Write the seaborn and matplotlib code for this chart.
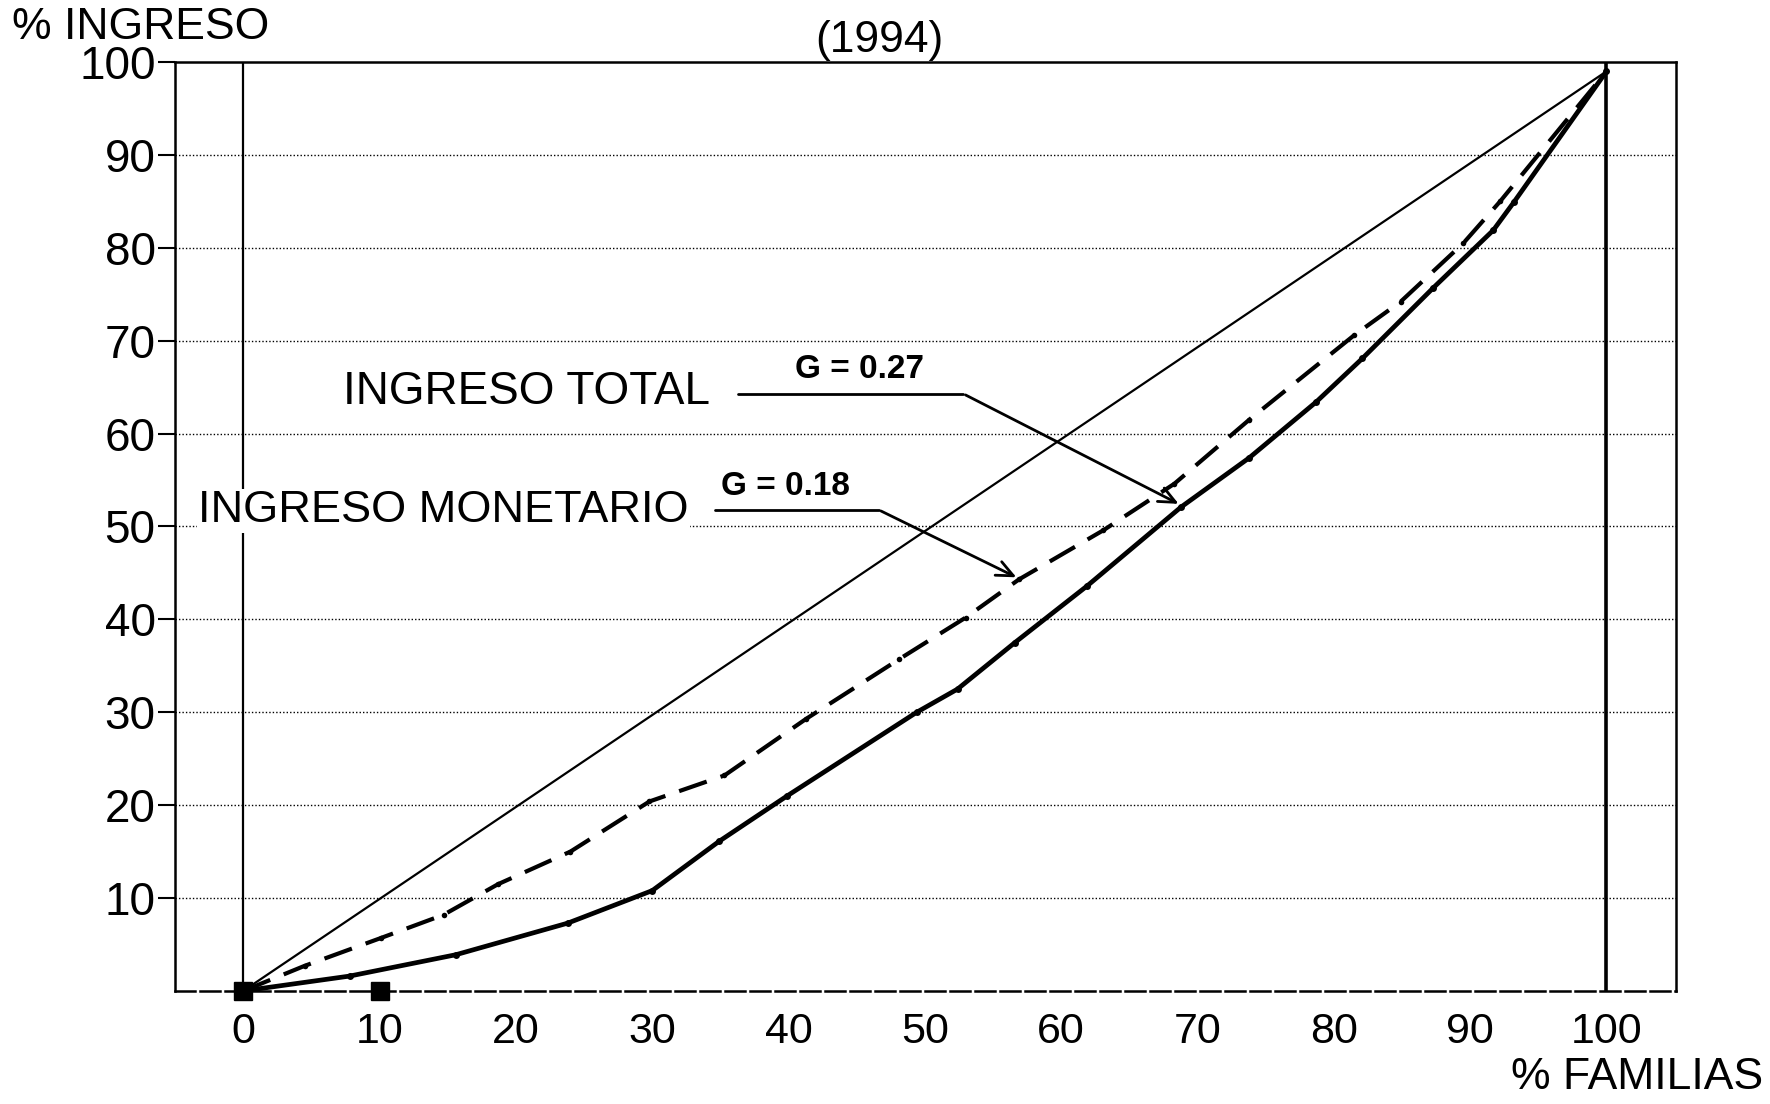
import matplotlib
matplotlib.use("Agg")
import matplotlib.pyplot as plt
import seaborn as sns
import pandas as pd

# ---- data ----
fam_monetario = [0, 4.5, 10.1, 14.7, 18.7, 24, 29.8, 35.3, 41.3, 48.1, 53.0, 56.9, 63.1, 68.3, 73.8, 81.5, 84.9, 89.5, 92.2, 100]
ing_monetario = [0, 2.7, 5.7, 8.2, 11.5, 15, 20.4, 23.2, 29.3, 35.7, 40.2, 44.3, 49.6, 54.6, 61.5, 70.6, 74.2, 80.5, 85.0, 99]

fam_total = [0, 7.8, 15.6, 23.8, 30, 34.9, 39.9, 49.4, 52.4, 56.6, 61.9, 68.8, 73.8, 78.7, 82.1, 87.3, 91.7, 93.2, 100]
ing_total = [0, 1.6, 3.9, 7.3, 10.8, 16.1, 21.0, 30, 32.5, 37.5, 43.6, 52.1, 57.4, 63.4, 68.1, 75.7, 81.9, 84.9, 99]

fam_equidad = [0, 100]
ing_equidad = [0, 99]

square_x = [0, 10]
square_y = [0, 0]

x_ticks = [0, 10, 20, 30, 40, 50, 60, 70, 80, 90, 100]
y_ticks = [10, 20, 30, 40, 50, 60, 70, 80, 90, 100]

title = "(1994)"
y_label = "% INGRESO"
x_label = "% FAMILIAS"
lab_total = "INGRESO TOTAL"
lab_mon = "INGRESO MONETARIO"
g_total = "G = 0.27"
g_mon = "G = 0.18"

sns.set_theme(style="white")
plt.rcParams['font.family'] = ['Liberation Sans', 'DejaVu Sans']
plt.rcParams['text.color'] = 'black'
plt.rcParams['xtick.color'] = 'black'
plt.rcParams['ytick.color'] = 'black'
plt.rcParams['xtick.labelcolor'] = 'black'
plt.rcParams['ytick.labelcolor'] = 'black'

fig = plt.figure(figsize=(17.7, 11.04), dpi=100)
ax = fig.add_axes([0.0989, 0.1024, 0.848, 0.8414])

df_mon = pd.DataFrame({"x": fam_monetario, "y": ing_monetario})
df_tot = pd.DataFrame({"x": fam_total, "y": ing_total})
df_eq = pd.DataFrame({"x": fam_equidad, "y": ing_equidad})

# grid
for yv in y_ticks[:-1]:
    ax.axhline(yv, color="black", lw=1.0, ls=(0, (1, 1.5)), zorder=1)

ax.axvline(0, color="black", lw=1.6, zorder=2)
ax.axvline(100, color="black", lw=2.6, zorder=2)

sns.lineplot(data=df_eq, x="x", y="y", ax=ax, color="black", lw=1.6, zorder=3)
sns.lineplot(data=df_mon, x="x", y="y", ax=ax, color="black", lw=3.0, zorder=4,
             marker="o", markersize=4, markeredgewidth=0, sort=False)
ax.lines[-1].set_dashes((7, 3.5))
sns.lineplot(data=df_tot, x="x", y="y", ax=ax, color="black", lw=3.4, zorder=4,
             marker="o", markersize=5, markeredgewidth=0, sort=False)
ax.plot(square_x, square_y, ls="none", marker="s", ms=13, color="black", zorder=6, clip_on=False)

ax.set_xlim(-5, 105.1)
ax.set_ylim(0, 100)
ax.set_xticks(x_ticks)
ax.set_yticks(y_ticks)
ax.tick_params(axis="x", length=0, pad=15, labelsize=31)
ax.tick_params(axis="y", length=12, width=1.5, direction="out", left=True, pad=2, labelsize=33)
ax.set_xlabel("")
ax.set_ylabel("")
for s in ["left", "right", "top", "bottom"]:
    ax.spines[s].set_color("black")
    ax.spines[s].set_linewidth(1.8)
ax.spines["bottom"].set_linestyle((0, (8, 2)))

# texts
fig.text(0.007, 0.975, y_label, fontsize=32, ha="left", va="center")
fig.text(0.497, 0.963, title, fontsize=32, ha="center", va="center")
fig.text(0.996, 0.014, x_label, fontsize=32, ha="right", va="baseline")

ax.text(7.3, 64.5, lab_total, fontsize=33, ha="left", va="center", zorder=7)
ax.text(45.2, 66.9, g_total, fontsize=24, fontweight="bold", ha="center", va="center", zorder=7)
ax.plot([36.3, 52.8], [64.3, 64.3], color="black", lw=2.0, zorder=7)
ax.annotate("", xy=(68.8, 52.3), xytext=(52.8, 64.3),
            arrowprops=dict(arrowstyle="->,head_length=1.0,head_width=0.45", color="black", lw=2.0),
            zorder=7)

ax.text(-3.3, 51.7, lab_mon, fontsize=32.5, ha="left", va="center", zorder=7,
        bbox=dict(facecolor="white", edgecolor="none", pad=1))
ax.text(39.8, 54.3, g_mon, fontsize=24, fontweight="bold", ha="center", va="center", zorder=7)
ax.plot([34.6, 46.6], [51.8, 51.8], color="black", lw=2.0, zorder=7)
ax.annotate("", xy=(56.9, 44.4), xytext=(46.6, 51.8),
            arrowprops=dict(arrowstyle="->,head_length=1.0,head_width=0.45", color="black", lw=2.0),
            zorder=7)

fig.savefig("out.png", dpi=100, facecolor="white")
